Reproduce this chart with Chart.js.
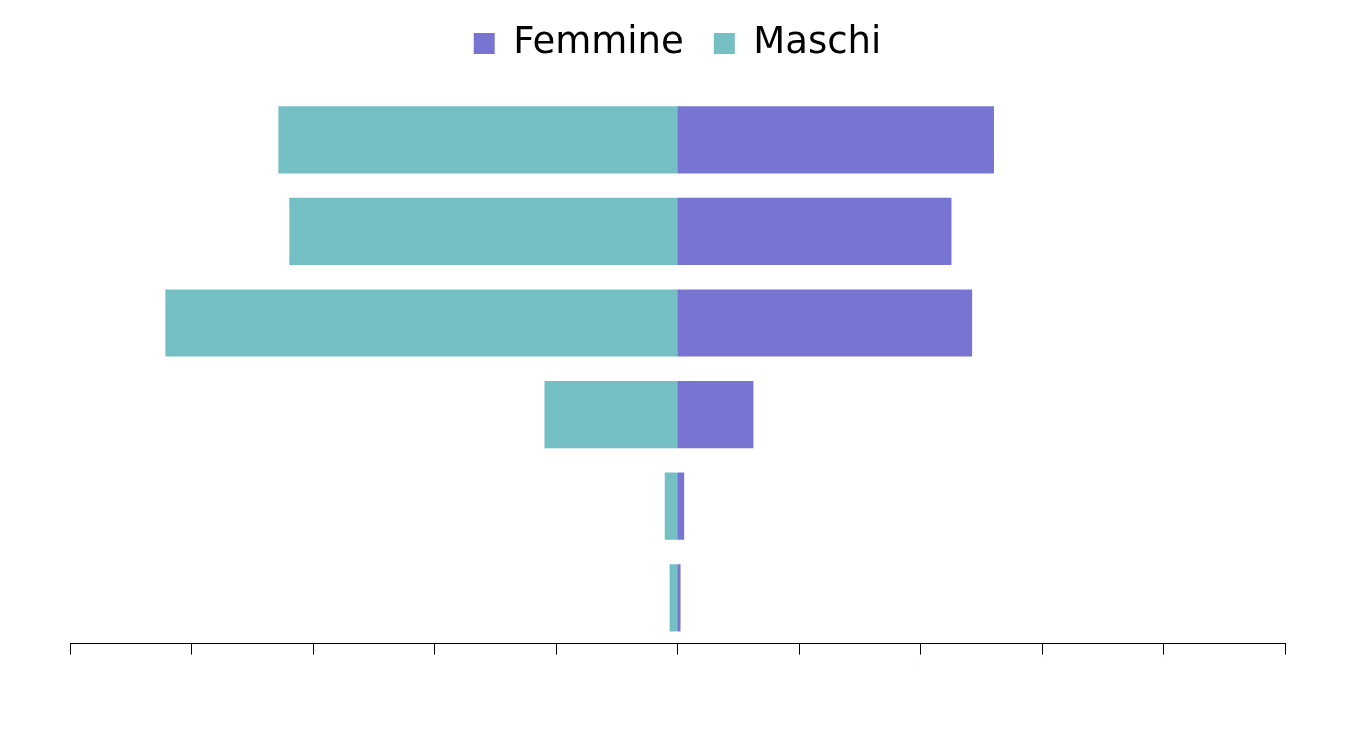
<!DOCTYPE html>
<html>
<head>
<meta charset="utf-8">
<script src="https://cdn.jsdelivr.net/npm/chart.js@4/dist/chart.umd.min.js"></script>
<style>
  html, body { margin: 0; padding: 0; background: #fff; }
  #wrap { width: 1350px; height: 742px; }
</style>
</head>
<body>
<div id="wrap"><canvas id="chart"></canvas></div>
<script>
// classi (dall'alto verso il basso)
const categorie = ['A', 'B', 'C', 'D', 'E', 'F'];
const femmine = [26.0, 22.5, 24.2, 6.2, 0.5, 0.2];
const maschi = [-32.8, -31.9, -42.1, -10.9, -1.0, -0.6];
const tickMin = -50;
const tickMax = 50;
const tickStep = 10;

// spazio extra sotto la legenda
const legendSpace = {
    id: 'legendSpace',
    beforeInit(chart) {
        const fit = chart.legend.fit;
        chart.legend.fit = function() {
            fit.bind(chart.legend)();
            this.height += 22;
        };
    }
};

const ctx = document.getElementById('chart').getContext('2d');
new Chart(ctx, {
    type: 'bar',
    data: {
        labels: categorie,
        datasets: [{
            label: 'Femmine',
            data: femmine,
            backgroundColor: '#7775d1',
            borderWidth: 0,
            inflateAmount: 0.6
        }, {
            label: 'Maschi',
            data: maschi,
            backgroundColor: '#74bfc4',
            borderWidth: 0,
            inflateAmount: 0.6
        }]
    },
    options: {
        indexAxis: 'y',
        responsive: true,
        maintainAspectRatio: false,
        animation: false,
        layout: {
            padding: { left: 70, right: 65, top: -5, bottom: 67 }
        },
        plugins: {
            legend: {
                position: 'top',
                labels: {
                    font: { family: 'DejaVu Sans', size: 37 },
                    color: '#000',
                    boxWidth: 21,
                    boxHeight: 21,
                    padding: 30
                }
            },
            tooltip: { enabled: false }
        },
        scales: {
            x: {
                stacked: true,
                min: tickMin,
                max: tickMax,
                ticks: {
                    stepSize: tickStep,
                    color: '#fefefe',
                    font: { family: 'DejaVu Sans', size: 12 },
                    callback: v => Math.abs(v)
                },
                grid: {
                    drawOnChartArea: false,
                    drawTicks: true,
                    tickLength: 11,
                    color: '#000'
                },
                border: { color: '#000', width: 1 }
            },
            y: {
                stacked: true,
                display: false
            }
        }
    },
    plugins: [legendSpace]
});
</script>
</body>
</html>
